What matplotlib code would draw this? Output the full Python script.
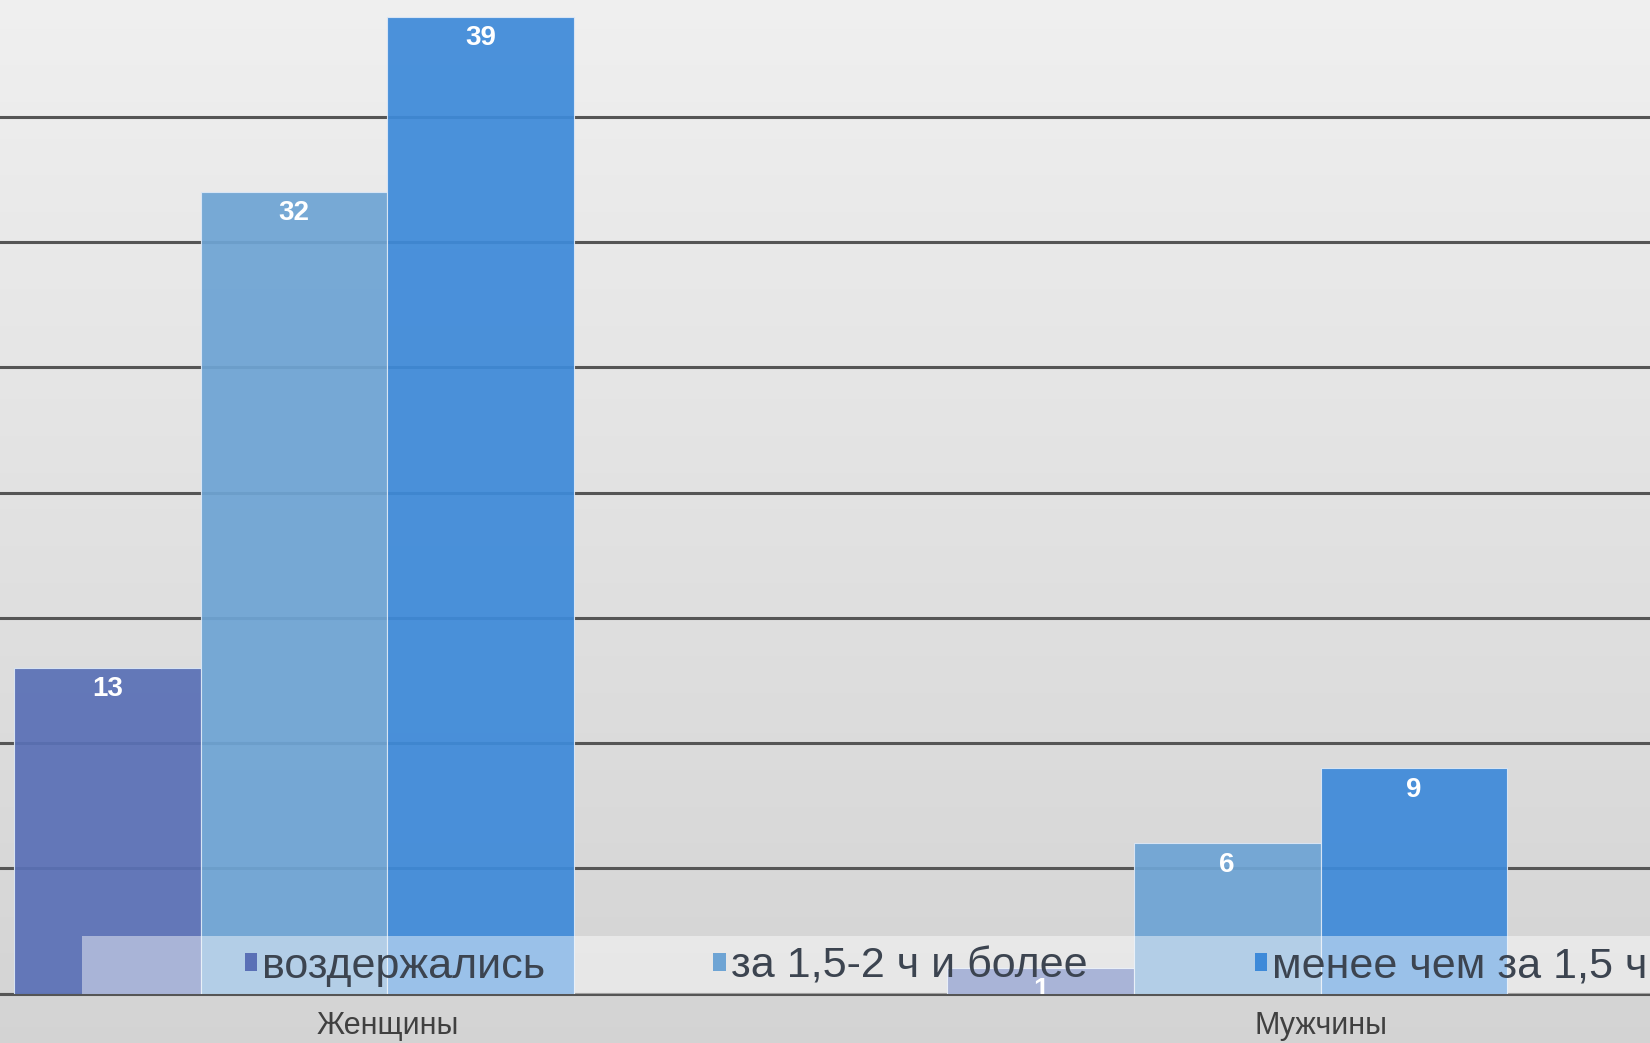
import numpy as np
import matplotlib.pyplot as plt
from matplotlib.patches import Patch, Rectangle

plt.rcParams['font.family'] = ['Liberation Sans', 'DejaVu Sans']

categories = ['Женщины', 'Мужчины']
series_names = ['воздержались', 'за 1,5-2 ч и более', 'менее чем за 1,5 ч']
abstained = [13, 1]
slow = [32, 6]
fast = [39, 9]
series_values = [abstained, slow, fast]
colors = ['#5a70b6', '#6ea4d4', '#3e8ad9']

fig = plt.figure(figsize=(16.5, 10.43), dpi=100)

# gray gradient background
bg = fig.add_axes([0, 0, 1, 1], zorder=-1)
grad = np.linspace(0.94, 0.83, 256).reshape(-1, 1)
bg.imshow(np.dstack([grad, grad, grad]), aspect='auto', extent=[0, 1, 0, 1])
bg.set_axis_off()

ax = fig.add_axes([0, 47 / 991, 1, 944 / 991])
ax.set_facecolor('none')

x = np.arange(len(categories))
w = 0.2
for i, (vals, c) in enumerate(zip(series_values, colors)):
    bars = ax.bar(x + (i - 1.5) * w, vals, width=w, align='center', color=c,
                  alpha=0.93, edgecolor='#dce8f6', linewidth=0.8, zorder=2)
    for b, v in zip(bars, vals):
        ax.annotate(str(v), (b.get_x() + b.get_width() / 2, v),
                    xytext=(0, -15.5), textcoords='offset points',
                    ha='center', va='center', color='white', fontsize=20,
                    fontweight='bold', zorder=6, clip_on=True)

ax.set_xlim(-0.415, 1.353)
ax.set_ylim(0, 39.66)
ax.set_yticks(np.arange(0, 40, 5))
ax.yaxis.grid(True, color='#555555', linewidth=2.2, zorder=1)
ax.set_axisbelow(True)
ax.axhline(0, color='#555555', linewidth=2.2, zorder=1, clip_on=False)
ax.tick_params(left=False, bottom=False, labelleft=False, pad=9)
ax.set_xticks(x)
ax.set_xticklabels(categories, fontsize=22, color='#404040')
for s in ax.spines.values():
    s.set_visible(False)

# translucent legend strip
ax.add_patch(Rectangle((78 / 1568, 0), 1.0, 55 / 944, transform=ax.transAxes,
                       facecolor='white', alpha=0.45, edgecolor='none',
                       zorder=3))

handles = [Patch(facecolor=c, edgecolor='none') for c in colors]
leg = ax.legend(handles, series_names, ncol=3, loc='center left',
                bbox_to_anchor=(233 / 1568, 0.027), frameon=False,
                fontsize=31, handlelength=0.28, handleheight=0.28,
                handletextpad=0.12, columnspacing=3.9, borderpad=0,
                borderaxespad=0)
leg.set_zorder(5)
for t in leg.get_texts():
    t.set_color('#3c4450')

fig.savefig('out.png', dpi=100)
